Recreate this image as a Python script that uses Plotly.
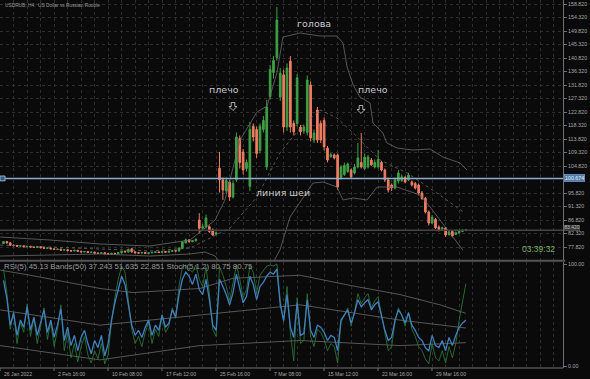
import plotly.graph_objects as go

# ---------------- DATA ----------------
x_labels = ["26 Jan 2022", "2 Feb 16:00", "10 Feb 08:00", "17 Feb 12:00", "25 Feb 16:00",
            "7 Mar 08:00", "15 Mar 12:00", "22 Mar 16:00", "29 Mar 16:00"]
price_ticks = [77.82, 82.32, 86.82, 91.32, 95.82, 104.82, 109.32, 113.82, 118.32,
               122.82, 127.32, 131.82, 136.32, 140.82, 145.32, 149.82, 154.32, 158.82]

opens = [79.0, 79.6, 79.2, 78.4, 78.3, 78.1, 78.2, 77.9, 78.0, 77.8, 77.7, 77.9, 77.6, 77.4, 77.5, 77.2,
         77.0, 77.1, 76.8, 76.9, 76.6, 76.5, 76.7, 76.4, 76.2, 76.3, 76.0, 76.1, 75.8, 75.7, 75.9, 75.6,
         75.5, 75.7, 75.6, 75.9, 76.4, 76.2, 77.2, 76.2, 75.9, 75.8, 76.0, 75.7, 75.9, 76.0, 76.2, 76.0,
         76.3, 76.1, 76.4, 76.6, 76.5, 77.3, 79.2, 80.2, 79.6, 79.9,
         86.8, 84.1, 84.5, 84.6, 83.5, 82.1,
         104.1, 100.2, 96.5, 99.5, 94.5, 100.2, 114.0, 109.5, 104.0, 98.0, 118.0, 117.0, 110.0, 117.0,
         104.5, 128.0, 136.0, 141.0, 127.8, 135.2, 117.8, 139.8, 119.0, 119.0, 117.8, 116.5, 116.0,
         131.8, 113.5, 123.5, 119.0, 120.0, 110.8, 108.0, 108.5, 108.5, 101.0, 102.0, 103.0, 103.5,
         102.5, 104.5, 106.0, 104.0, 104.5, 106.8, 104.5, 104.5, 106.0, 103.5, 100.2, 98.5, 97.5,
         99.8, 100.0, 101.0, 100.2, 99.5, 99.0, 98.5, 95.8, 94.0, 89.5, 85.8, 87.0, 84.5, 83.8, 84.2,
         82.0, 83.0, 82.0, 82.5, 83.0, 83.3]
closes = [79.6, 79.2, 78.4, 78.3, 78.1, 78.2, 77.9, 78.0, 77.8, 77.7, 77.9, 77.6, 77.4, 77.5, 77.2, 77.0,
          77.1, 76.8, 76.9, 76.6, 76.5, 76.7, 76.4, 76.2, 76.3, 76.0, 76.1, 75.8, 75.7, 75.9, 75.6, 75.5,
          75.7, 75.6, 75.9, 76.4, 76.2, 77.0, 76.2, 75.9, 75.8, 76.0, 75.7, 75.9, 76.0, 76.2, 76.0, 76.3,
          76.1, 76.4, 76.6, 76.5, 77.5, 79.5, 80.2, 79.6, 79.9, 80.4,
          84.1, 84.6, 87.5, 83.0, 81.8, 82.6,
          100.2, 96.8, 100.0, 94.5, 99.0, 114.5, 106.0, 103.5, 106.0, 117.0, 114.5, 109.0, 118.0, 120.0,
          124.5, 137.0, 140.0, 153.5, 135.8, 117.8, 137.5, 117.8, 116.2, 134.2, 116.2, 117.8, 133.5,
          114.2, 115.8, 113.5, 113.5, 111.2, 106.8, 108.6, 107.5, 97.8, 104.5, 105.0, 105.5, 101.2,
          104.5, 107.5, 104.5, 107.8, 107.8, 105.2, 106.0, 107.0, 103.5, 100.2, 96.8, 97.5, 100.2,
          102.5, 101.2, 99.5, 101.8, 98.5, 97.5, 95.8, 94.0, 89.5, 85.8, 87.8, 84.2, 83.5, 84.2, 81.8,
          82.8, 81.5, 82.6, 83.1, 83.4, 83.5]
highs = [79.8, 79.8, 79.4, 78.7, 78.5, 78.4, 78.3, 78.2, 78.2, 77.9, 78.1, 78.0, 77.8, 77.7, 77.6, 77.3,
         77.3, 77.3, 77.1, 77.0, 76.8, 76.9, 76.9, 76.6, 76.5, 76.5, 76.3, 76.3, 76.0, 76.0, 76.1, 75.8,
         75.9, 75.9, 76.1, 76.6, 76.6, 77.3, 77.5, 76.3, 76.1, 76.2, 76.1, 76.0, 76.2, 76.4, 76.3, 76.5,
         76.4, 76.6, 76.8, 76.8, 77.7, 79.8, 80.6, 80.4, 80.1, 80.7,
         89.1, 85.5, 88.6, 85.0, 84.0, 83.0,
         109.5, 101.0, 101.0, 100.0, 100.0, 116.0, 115.0, 110.5, 107.0, 119.5, 119.0, 118.0, 119.0, 121.5,
         126.8, 138.5, 141.5, 157.8, 137.5, 137.0, 139.0, 141.5, 120.0, 135.5, 118.5, 118.5, 135.0,
         133.0, 117.0, 124.5, 120.0, 121.0, 111.5, 109.2, 109.0, 109.0, 105.2, 106.0, 106.0, 104.0,
         105.5, 112.5, 115.8, 109.0, 108.5, 107.5, 107.0, 110.2, 106.5, 104.0, 101.0, 99.0, 101.0,
         103.5, 102.0, 101.5, 102.5, 100.0, 99.5, 99.0, 96.5, 94.5, 90.0, 88.5, 87.5, 85.0, 84.6, 84.5,
         83.2, 83.3, 83.0, 83.4, 83.7, 83.8]
lows = [78.8, 79.0, 78.2, 78.0, 77.9, 77.9, 77.7, 77.7, 77.6, 77.5, 77.5, 77.4, 77.2, 77.2, 77.0, 76.8,
        76.8, 76.6, 76.6, 76.4, 76.3, 76.3, 76.2, 76.0, 76.0, 75.8, 75.8, 75.6, 75.5, 75.5, 75.4, 75.3,
        75.3, 75.4, 75.4, 75.7, 76.0, 76.0, 76.0, 75.7, 75.6, 75.6, 75.5, 75.5, 75.7, 75.8, 75.8, 75.8,
        75.9, 75.9, 76.2, 76.2, 76.3, 77.1, 79.0, 79.3, 79.4, 79.7,
        82.4, 83.5, 84.0, 82.5, 81.5, 81.8,
        96.0, 93.5, 95.5, 93.2, 94.0, 99.5, 104.0, 102.0, 103.0, 96.5, 113.0, 107.5, 109.0, 116.0,
        103.5, 127.0, 134.0, 140.0, 126.5, 116.0, 116.5, 116.0, 115.0, 118.0, 115.0, 115.5, 115.0,
        113.0, 112.5, 112.5, 112.5, 110.0, 106.0, 107.5, 107.0, 96.8, 100.2, 101.5, 102.5, 100.5,
        102.0, 104.0, 104.0, 103.5, 104.0, 104.8, 104.0, 104.0, 103.0, 99.5, 96.0, 96.5, 97.0,
        99.0, 99.5, 99.0, 99.8, 98.0, 97.0, 95.0, 93.5, 89.0, 85.0, 85.5, 83.8, 83.0, 83.5, 81.2,
        81.6, 81.0, 81.8, 82.3, 82.8, 83.1]

# Bollinger bands (20) on price, read at sample bars
bb_up_x = [-1.0, 13.8, 28.6, 43.4, 55.3, 59.7, 62.7, 65.6, 70.1, 75.1, 78.1, 81.0, 82.8, 87.9, 93.8,
           98.8, 100.6, 101.8, 103.6, 105.6, 108.6, 109.5, 112.4, 113.6, 116.6, 121.3, 126.4, 130.2,
           135.3, 137.3]
bb_up_y = [81.15, 80.15, 78.82, 78.15, 80.15, 84.15, 86.82, 93.49, 113.49, 122.82, 124.82, 135.82,
           147.82, 149.15, 148.15, 148.15, 145.82, 137.82, 131.82, 127.82, 125.82, 119.15, 115.82,
           112.49, 110.82, 110.15, 110.49, 107.82, 105.82, 103.49]
bb_mid_x = [-1.0, 28.6, 43.4, 55.3, 61.2, 67.1, 75.1, 81.9, 87.9, 93.8, 98.8, 103.6, 111.6, 119.6,
            128.4, 136.7]
bb_mid_y = [78.49, 77.15, 76.49, 77.49, 80.82, 84.15, 94.49, 109.15, 117.49, 123.49, 120.82, 115.82,
            106.82, 102.49, 95.82, 89.15]
bb_lo_x = [-1.0, 28.6, 43.4, 55.3, 59.7, 62.7, 67.1, 74.5, 79.0, 81.9, 84.9, 91.7, 94.7, 98.8, 100.6,
           103.6, 107.7, 110.7, 116.6, 123.4, 126.4, 129.3, 133.2, 136.1]
bb_lo_y = [74.82, 75.49, 74.82, 75.49, 76.15, 74.82, 68.49, 66.15, 70.82, 76.82, 87.82, 99.15, 99.49,
           97.82, 93.49, 94.15, 93.49, 97.82, 97.82, 95.15, 91.15, 86.82, 81.15, 76.82]

rsi = [84, 66, 40, 52, 30, 45, 38, 58, 35, 48, 30, 42, 55, 33, 45, 28, 40, 56,
       25, 38, 20, 30, 15, 28, 35, 22, 12, 25, 18, 30, 10, 22,
       45, 62, 75, 88, 80, 60, 40, 30, 35,
       28, 38, 45, 30, 40, 35, 50, 38, 42, 55, 48,
       70, 85, 92, 88, 80, 90, 75, 70, 85, 65, 40, 35,
       85, 78, 70, 60, 72, 90, 75, 62, 68, 88, 80, 65, 78, 82,
       88, 92, 90, 95, 60, 45, 70, 38, 28, 62, 30, 32, 65, 35, 28, 40, 38, 33,
       25, 30, 28, 15, 45, 50, 55, 42, 52, 65, 58, 62, 65, 55, 60, 63, 50,
       35, 25, 28, 45, 55, 50, 42, 52, 40, 35, 28, 25, 18, 15, 30,
       20, 18, 25, 15, 28, 20, 30, 38, 42, 45.13]
stoch = [95, 72, 36, 53, 22, 43, 33, 61, 29, 47, 22, 39, 57, 26, 43, 19, 36, 60,
         15, 33, 8, 22, 4, 19, 29, 11, 3, 15, 7, 22, 2, 11,
         43, 67, 85, 98, 92, 64, 36, 22, 29,
         19, 33, 43, 22, 36, 29, 50, 33, 39, 57, 47,
         78, 97, 99, 95, 92, 99, 85, 78, 97, 71, 36, 29,
         97, 89, 78, 64, 81, 99, 85, 67, 75, 98, 92, 71, 89, 93,
         98, 99, 98, 100, 64, 43, 78, 33, 5, 67, 22, 25, 71, 29, 19, 36, 33, 26,
         15, 22, 19, 3, 43, 50, 57, 39, 53, 71, 61, 67, 71, 57, 64, 68, 50,
         29, 15, 19, 43, 57, 50, 39, 53, 36, 29, 19, 15, 7, 2, 22,
         8, 5, 15, 3, 19, 8, 22, 45, 65, 80.75]
rb_up_x = [-1.0, 7.9, 28.6, 38.4, 58.2, 68.0, 87.9, 102.7, 117.5, 129.3, 137.0]
rb_up_y = [94, 89, 76, 72, 76, 86, 89, 79, 70, 60, 51.635]
rb_mid_x = [-1.0, 28.6, 58.2, 87.9, 117.5, 137.0]
rb_mid_y = [55, 40, 50, 60, 45, 37.243]
rb_lo_x = [-1.0, 28.6, 58.2, 87.9, 117.5, 137.0]
rb_lo_y = [20, 6, 20, 25, 20, 22.851]

line_price = 100.674
bid_price = 83.42

# ---------------- FIGURE ----------------
n = len(closes)
bars = list(range(n))
PX_PER_BAR = 3.375
X0_PX = 3.5
W_PLOT = 563.0
H_PLOT = 368.0
xmin = (0 - X0_PX) / PX_PER_BAR
xmax = (W_PLOT - X0_PX) / PX_PER_BAR

BG = "#0a0a0a"
GRID = "#2e2e2e"
AXC = "#707070"
TXT = "#a8a8a8"
GREEN = "#3fa045"
RED = "#ef7d62"
BAND = "#6a6a6a"
FONT = "Liberation Sans"

fig = go.Figure()

fig.add_trace(go.Candlestick(
    x=bars, open=opens, high=highs, low=lows, close=closes,
    increasing=dict(line=dict(color=GREEN, width=1), fillcolor=GREEN),
    decreasing=dict(line=dict(color=RED, width=1), fillcolor=RED),
    whiskerwidth=0, xaxis="x", yaxis="y", showlegend=False))

fig.add_trace(go.Scatter(x=bb_up_x, y=bb_up_y, mode="lines", line=dict(color=BAND, width=0.8),
                         xaxis="x", yaxis="y", showlegend=False))
fig.add_trace(go.Scatter(x=bb_mid_x, y=bb_mid_y, mode="lines", line=dict(color=BAND, width=0.8, dash="dot"),
                         xaxis="x", yaxis="y", showlegend=False))
fig.add_trace(go.Scatter(x=bb_lo_x, y=bb_lo_y, mode="lines", line=dict(color=BAND, width=0.8),
                         xaxis="x", yaxis="y", showlegend=False))

# indicator panel
fig.add_trace(go.Scatter(x=rb_up_x, y=rb_up_y, mode="lines", line=dict(color=BAND, width=0.8),
                         xaxis="x2", yaxis="y2", showlegend=False))
fig.add_trace(go.Scatter(x=rb_mid_x, y=rb_mid_y, mode="lines", line=dict(color=BAND, width=0.8),
                         xaxis="x2", yaxis="y2", showlegend=False))
fig.add_trace(go.Scatter(x=rb_lo_x, y=rb_lo_y, mode="lines", line=dict(color=BAND, width=0.8),
                         xaxis="x2", yaxis="y2", showlegend=False))
fig.add_trace(go.Scatter(x=bars, y=stoch, mode="lines", line=dict(color="#2f7d3a", width=0.8),
                         xaxis="x2", yaxis="y2", showlegend=False))
fig.add_trace(go.Scatter(x=bars, y=rsi, mode="lines", line=dict(color="#3f80bf", width=1.3),
                         xaxis="x2", yaxis="y2", showlegend=False))

main_bottom = (H_PLOT - 260) / H_PLOT
ind_top = (H_PLOT - 262) / H_PLOT
y_lo = 160.153 - 260 / 3.0
pad = 2 * 100 / 102.0

common_x = dict(range=[xmin, xmax], showticklabels=False, zeroline=False,
                showgrid=True, gridcolor=GRID, griddash="dot", gridwidth=1,
                tick0=xmin, dtick=4, fixedrange=True)

fig.update_layout(
    width=590, height=379,
    margin=dict(l=0, r=27, t=0, b=11),
    paper_bgcolor=BG, plot_bgcolor=BG,
    font=dict(family=FONT, color=TXT, size=6),
    xaxis=dict(**common_x, domain=[0, 1], anchor="y", rangeslider=dict(visible=False)),
    xaxis2=dict(**common_x, domain=[0, 1], anchor="y2"),
    yaxis=dict(domain=[main_bottom, 1], range=[y_lo, 160.153], side="right",
               tickvals=price_ticks, ticktext=["%.3f" % v for v in price_ticks],
               ticks="outside", ticklen=3, tickcolor=AXC, showline=True, linecolor=AXC,
               showgrid=True, gridcolor=GRID, griddash="dot", zeroline=False,
               tickfont=dict(size=5.3, color=TXT, family=FONT), fixedrange=True),
    yaxis2=dict(domain=[0, ind_top], range=[-pad, 100 + pad], side="right",
                tickvals=[0, 100], ticktext=["0.00", "100.00"], ticks="outside", ticklen=3,
                tickcolor=AXC, showline=True, linecolor=AXC, showgrid=False, zeroline=False,
                tickfont=dict(size=5.3, color=TXT, family=FONT), fixedrange=True),
)


def ppx(px):
    return px / W_PLOT


def ppy(py):
    return (H_PLOT - py) / H_PLOT


shapes = []
# bottom border with ticks
shapes.append(dict(type="line", xref="paper", yref="paper", x0=0, x1=1, y0=0, y1=0,
                   line=dict(color=AXC, width=1)))
for k in range(len(x_labels)):
    xv = xmin + 16 * k
    shapes.append(dict(type="line", xref="x2", yref="paper", x0=xv, x1=xv, y0=0, y1=-3 / H_PLOT,
                       line=dict(color=AXC, width=1)))
# separator between panels
sep_y = ppy(260.8)
shapes.append(dict(type="line", xref="paper", yref="paper", x0=0, x1=1.004, y0=sep_y, y1=sep_y,
                   line=dict(color="#555555", width=2)))
# neckline (blue horizontal)
shapes.append(dict(type="line", xref="paper", yref="y", x0=0, x1=1, y0=line_price, y1=line_price,
                   line=dict(color="#8cadd0", width=1.4)))
shapes.append(dict(type="rect", xref="x", yref="y", x0=xmin, x1=xmin + 1.5,
                   y0=line_price - 0.8, y1=line_price + 0.8,
                   line=dict(color="#8cadd0", width=1), fillcolor="#3d5a78"))
# bid line (grey)
shapes.append(dict(type="line", xref="paper", yref="y", x0=0, x1=1, y0=bid_price, y1=bid_price,
                   line=dict(color="#444444", width=1.5)))
# hollow down arrows
for cx, cy in [(233, 106.5), (361, 109.5)]:
    pts = [(cx - 1.8, cy - 4), (cx + 1.8, cy - 4), (cx + 1.8, cy), (cx + 4, cy), (cx, cy + 4),
           (cx - 4, cy), (cx - 1.8, cy)]
    path = "M " + " L ".join("%.5f,%.5f" % (ppx(a), ppy(b)) for a, b in pts) + " Z"
    shapes.append(dict(type="path", xref="paper", yref="paper", path=path,
                       line=dict(color="#c0c0c0", width=0.9)))
fig.update_layout(shapes=shapes)

ann = []
lab_y = -(374 - H_PLOT) / H_PLOT
for k, t in enumerate(x_labels):
    ann.append(dict(x=xmin + 16 * k + 0.5, y=lab_y, xref="x2", yref="paper", text=t,
                    showarrow=False, xanchor="left", yanchor="middle",
                    font=dict(size=5.1, color=TXT, family=FONT)))
# price boxes on axis
ann.append(dict(x=1.002, y=line_price, xref="paper", yref="y", text="%.3f" % line_price,
                showarrow=False, xanchor="left", yanchor="middle", bgcolor="#4d7cb0",
                bordercolor="#8cadd0", borderwidth=0.5, borderpad=0.5,
                font=dict(size=5.3, color="#e8eef5", family=FONT)))
ann.append(dict(x=1.002, y=bid_price + 0.75, xref="paper", yref="y", text="%.3f" % bid_price,
                showarrow=False, xanchor="left", yanchor="middle", bgcolor="#3a3a3a",
                bordercolor="#666666", borderwidth=0.4, borderpad=0,
                font=dict(size=4.9, color="#b8b8b8", family=FONT)))
# titles
ann.append(dict(x=ppx(3), y=ppy(6), xref="paper", yref="paper",
                text="USDRUB, H4:  US Dollar vs Russian Rouble", showarrow=False,
                xanchor="left", yanchor="middle", font=dict(size=4.8, color="#9a9a9a", family=FONT)))
ann.append(dict(x=ppx(2), y=ppy(266.5), xref="paper", yref="paper",
                text="RSI(5) 45.13 Bands(50) 37.243 51.635 22.851 Stoch(5,1,2) 80.75 80.75",
                showarrow=False, xanchor="left", yanchor="middle",
                font=dict(size=7.8, color="#9a9a9a", family=FONT)))


def px_to_x(px):
    return (px - X0_PX) / PX_PER_BAR


def py_to_price(py):
    return 160.153 - py / 3.0


LBL = dict(size=9.5, color="#c8c8c8", family="DejaVu Sans")
for txt, px, py in [("голова", 314, 23), ("плечо", 224, 89), ("плечо", 373, 89), ("линия шеи", 283, 192)]:
    ann.append(dict(x=px_to_x(px), y=py_to_price(py), xref="x", yref="y", text=txt, showarrow=False,
                    xanchor="center", yanchor="middle", font=LBL))
ann.append(dict(x=ppx(538), y=ppy(249), xref="paper", yref="paper", text="03:39:32",
                showarrow=False, xanchor="center", yanchor="middle",
                font=dict(size=8.5, color="#76b062", family=FONT)))
fig.update_layout(annotations=ann)

fig.write_html("out.html")
